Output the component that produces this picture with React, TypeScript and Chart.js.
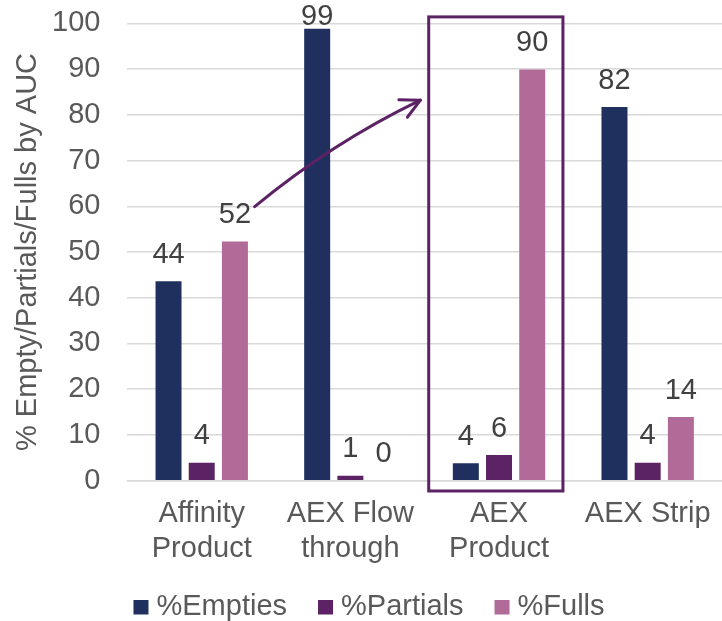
import React, { useEffect, useRef } from 'react';
import { Chart, registerables } from 'chart.js';

Chart.register(...registerables);

// ---- data ----
const categories: string[][] = [['Affinity', 'Product'], ['AEX Flow', 'through'], ['AEX', 'Product'], ['AEX Strip']];
const seriesNames = ['%Empties', '%Partials', '%Fulls'];
const empties = [43.6, 98.8, 3.8, 81.7];
const partials = [3.9, 1.1, 5.6, 3.9];
const fulls = [52.3, 0, 89.9, 13.9];
const yMin = 0;
const yMax = 100;
const yStep = 10;
const yTitle = '% Empty/Partials/Fulls by AUC';

// ---- annotation (in category / value units) ----
const highlightCategory = 2;
const highlightLeft = -0.473;
const highlightRight = 0.43;
const highlightTop = 101.4;
const highlightBottom = -2.25;
const arrowStart = [0.356, 59.9];
const arrowControl = [0.872, 73.8];
const arrowEnd = [1.471, 83.2];

// ---- styles ----
const colors = ['#1F305E', '#5B2363', '#B16B98'];
const accent = '#5B2363';
const FONT = '"Liberation Sans", Arial, Helvetica, sans-serif';
const FS = 29;

const overlayPlugin = {
  id: 'overlay',
  afterDraw(chart: any) {
    const ctx: CanvasRenderingContext2D = chart.ctx;
    const xs = chart.scales.x;
    const ys = chart.scales.y;
    const step = xs.getPixelForValue(1) - xs.getPixelForValue(0);
    const cx = (c: number) => xs.getPixelForValue(0) + c * step;

    ctx.save();
    // data labels
    ctx.font = `${FS}px ${FONT}`;
    ctx.fillStyle = '#404040';
    ctx.textAlign = 'center';
    ctx.textBaseline = 'alphabetic';
    chart.data.datasets.forEach((ds: any, i: number) => {
      const meta = chart.getDatasetMeta(i);
      meta.data.forEach((bar: any, j: number) => {
        const v = ds.data[j];
        const by = Math.max(bar.y - 18.5, 25);
        ctx.fillText(String(Math.round(v)), bar.x, by);
      });
    });

    // highlight box
    ctx.strokeStyle = accent;
    ctx.lineWidth = 3;
    const l = cx(highlightCategory + highlightLeft);
    const r = cx(highlightCategory + highlightRight);
    const t = ys.getPixelForValue(highlightTop);
    const b = ys.getPixelForValue(highlightBottom);
    ctx.strokeRect(l, t, r - l, b - t);

    // arrow
    const p0x = cx(arrowStart[0]), p0y = ys.getPixelForValue(arrowStart[1]);
    const c1x = cx(arrowControl[0]), c1y = ys.getPixelForValue(arrowControl[1]);
    const p2x = cx(arrowEnd[0]), p2y = ys.getPixelForValue(arrowEnd[1]);
    ctx.lineCap = 'round';
    ctx.lineJoin = 'round';
    ctx.beginPath();
    ctx.moveTo(p0x, p0y);
    ctx.quadraticCurveTo(c1x, c1y, p2x, p2y);
    ctx.stroke();
    const ang = Math.atan2(p2y - c1y, p2x - c1x);
    const len = 21.5;
    const spread = (27 * Math.PI) / 180;
    ctx.beginPath();
    ctx.moveTo(p2x - len * Math.cos(ang - spread), p2y - len * Math.sin(ang - spread));
    ctx.lineTo(p2x, p2y);
    ctx.lineTo(p2x - len * Math.cos(ang + spread), p2y - len * Math.sin(ang + spread));
    ctx.stroke();

    // legend
    ctx.font = `${FS}px ${FONT}`;
    ctx.textAlign = 'left';
    ctx.textBaseline = 'middle';
    const box = 15;
    const gap = 8;
    const spacing = 31;
    const widths = seriesNames.map((n) => ctx.measureText(n).width);
    const total = widths.reduce((a, w) => a + box + gap + w, 0) + spacing * (seriesNames.length - 1);
    let lx = chart.width / 2 + 8 - total / 2;
    const ly = chart.height - 14;
    seriesNames.forEach((n, i) => {
      ctx.fillStyle = colors[i];
      ctx.fillRect(lx, ly - 7, box, 14.5);
      ctx.fillStyle = '#595959';
      ctx.fillText(n, lx + box + gap, ly);
      lx += box + gap + widths[i] + spacing;
    });
    ctx.restore();
  },
};

export default function App() {
  const ref = useRef<HTMLCanvasElement | null>(null);
  useEffect(() => {
    if (!ref.current) return;
    Chart.defaults.font.family = FONT;
    const values = [empties, partials, fulls];
    const chart = new Chart(ref.current, {
      type: 'bar',
      data: {
        labels: categories as any,
        datasets: seriesNames.map((name, i) => ({
          label: name,
          data: values[i],
          backgroundColor: colors[i],
          borderWidth: 0,
          categoryPercentage: 0.67,
          barPercentage: 0.783,
        })),
      },
      options: {
        animation: false,
        responsive: false,
        maintainAspectRatio: false,
        layout: { padding: { top: 23.3, left: 0, right: 0, bottom: 0 } },
        plugins: {
          legend: { display: false },
          tooltip: { enabled: false },
        },
        scales: {
          x: {
            grid: { display: false, drawTicks: false },
            border: { display: true, color: '#D9D9D9', width: 1.5 },
            ticks: {
              color: '#595959',
              font: { size: FS, family: FONT },
              padding: 16,
              maxRotation: 0,
              minRotation: 0,
              autoSkip: false,
            },
            afterFit: (s: any) => {
              s.height = 140.3;
              s.paddingLeft = 0;
              s.paddingRight = 0;
            },
          },
          y: {
            min: yMin,
            max: yMax,
            grid: { color: '#D9D9D9', lineWidth: 1.5, drawTicks: false },
            border: { display: false },
            ticks: {
              stepSize: yStep,
              color: '#595959',
              font: { size: FS, family: FONT },
              padding: 27,
            },
            title: {
              display: true,
              text: yTitle,
              color: '#595959',
              font: { size: FS, family: FONT },
              padding: { top: 10.6, bottom: 0 },
            },
            afterFit: (s: any) => {
              s.width = 127.4;
              s.paddingTop = 0;
              s.paddingBottom = 0;
            },
          },
        },
      },
      plugins: [overlayPlugin],
    });
    return () => chart.destroy();
  }, []);
  return (
    <div style={{ position: 'fixed', left: 0, top: 0, width: 722, height: 621, background: '#fff' }}>
      <canvas ref={ref} width={722} height={621} style={{ width: 722, height: 621, display: 'block' }} />
    </div>
  );
}
